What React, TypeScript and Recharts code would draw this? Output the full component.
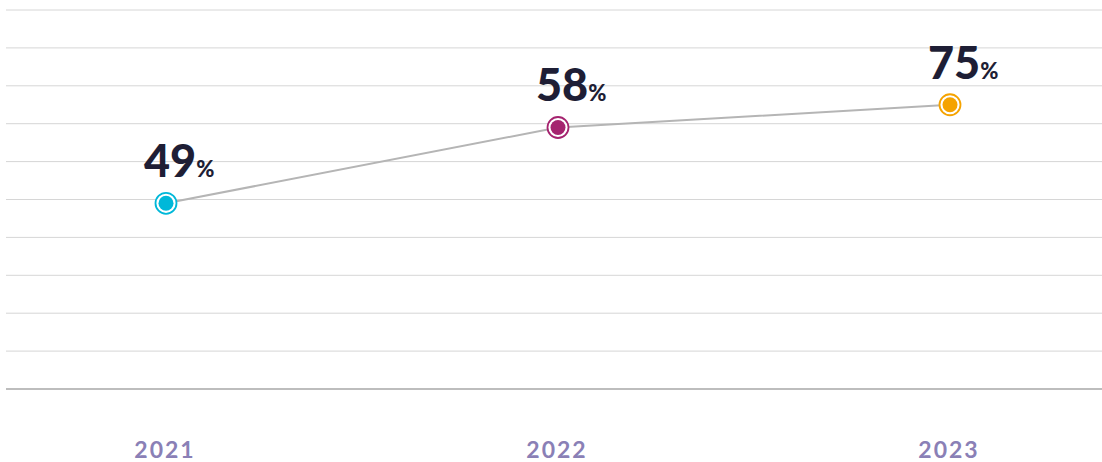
import React from 'react';
import { LineChart, Line, XAxis, YAxis, CartesianGrid } from 'recharts';

const years = ['2021', '2022', '2023'];
// plotted heights as drawn in the picture
const plotted = [49, 69, 75];
// printed labels
const shares = [49, 58, 75];
const dotColors = ['#00b8d9', '#a5236f', '#f5a300'];
const yTicks = [0, 10, 20, 30, 40, 50, 60, 70, 80, 90, 100];

const data = years.map((year, i) => ({
    year: year,
    value: plotted[i],
    share: shares[i]
}));

const renderDot = (props: any) => {
    const { cx, cy, index } = props;
    const color = dotColors[index];
    return (
        <g key={`dot-${index}`}>
            <circle cx={cx} cy={cy} r={10.5} fill="#fff" stroke={color} strokeWidth={1.8} />
            <circle cx={cx} cy={cy} r={7.5} fill={color} />
        </g>
    );
};

const renderLabel = (props: any) => {
    const { x, y, index } = props;
    return (
        <text
            key={`label-${index}`}
            x={x - 22}
            y={y - 26}
            fill="#1e1e35"
            fontFamily="Lato"
            fontWeight={900}
        >
            <tspan fontSize={45}>{shares[index]}</tspan>
            <tspan fontSize={22} dx={0}>%</tspan>
        </text>
    );
};

const renderTick = (props: any) => {
    const { x, y, payload } = props;
    return (
        <text
            x={x - 1}
            y={y + 69}
            textAnchor="middle"
            fill="#8a80b6"
            fontFamily="Lato"
            fontWeight={700}
            fontSize={23}
            letterSpacing={2}
        >
            {payload.value}
        </text>
    );
};

const App = () => {
    return (
        <div style={{ position: 'absolute', left: 0, top: 0 }}>
            <LineChart
                width={1102}
                height={462}
                data={data}
                margin={{ top: 10, right: 0, left: 6, bottom: 0 }}
            >
                <CartesianGrid vertical={false} stroke="#d6d6d6" strokeWidth={1} />
                <XAxis
                    dataKey="year"
                    height={73}
                    padding={{ left: 160, right: 152 }}
                    axisLine={{ stroke: '#bdbdbd', strokeWidth: 2 }}
                    tickLine={false}
                    tickSize={0}
                    tickMargin={0}
                    tick={renderTick}
                />
                <YAxis hide domain={[0, 100]} ticks={yTicks} />
                <Line
                    type="linear"
                    dataKey="value"
                    stroke="#b5b5b5"
                    strokeWidth={2}
                    dot={renderDot}
                    activeDot={false}
                    label={renderLabel}
                    isAnimationActive={false}
                />
            </LineChart>
        </div>
    );
};

export default App;
